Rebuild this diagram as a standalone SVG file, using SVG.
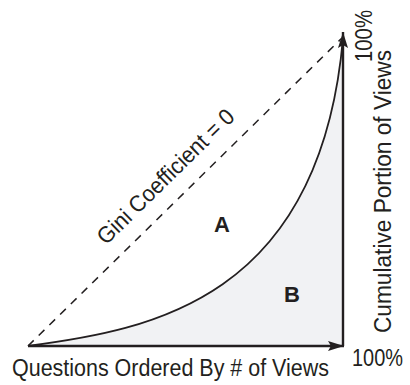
<svg xmlns="http://www.w3.org/2000/svg" width="410" height="385" viewBox="0 0 410 385">
<defs>
<style>
.lbl{font-family:"Liberation Sans",Arial,sans-serif;font-size:23px;fill:#231f20}
.big{font-family:"Liberation Sans",Arial,sans-serif;font-size:22px;font-weight:bold;fill:#231f20}
.axis{stroke:#231f20;stroke-width:2.4;fill:none}
</style>
<marker id="ah" viewBox="0 0 16 10" refX="16" refY="5" markerWidth="16" markerHeight="10" markerUnits="userSpaceOnUse" orient="auto">
<path d="M0,0 L16,5 L0,10 L3,5 Z" fill="#231f20"/>
</marker>
</defs>
<rect width="410" height="385" fill="#ffffff"/>
<g id="area-b">
<path d="M28,346 C150,330 320,300 343,38 L343,346 Z" fill="#f1f2f4"/>
</g>
<g id="connectors">
<line x1="28" y1="346" x2="342" y2="38" stroke="#231f20" stroke-width="1.5" stroke-dasharray="8,7"/>
<path d="M28,346 C150,330 320,300 343,38" fill="none" stroke="#231f20" stroke-width="1.8"/>
<line class="axis" x1="28" y1="346" x2="344" y2="346" marker-end="url(#ah)"/>
<line class="axis" x1="343" y1="346" x2="343" y2="32" marker-end="url(#ah)"/>
</g>
<g id="labels">
<text class="big" x="222" y="232" text-anchor="middle">A</text>
<text class="big" x="292" y="302" text-anchor="middle">B</text>
<text class="lbl" x="12" y="376" textLength="317" lengthAdjust="spacingAndGlyphs">Questions Ordered By # of Views</text>
<text class="lbl" x="352" y="366" textLength="51" lengthAdjust="spacingAndGlyphs">100%</text>
<text class="lbl" transform="translate(372,62) rotate(-90)" textLength="52" lengthAdjust="spacingAndGlyphs">100%</text>
<text class="lbl" transform="translate(391,333) rotate(-90)" textLength="283" lengthAdjust="spacingAndGlyphs">Cumulative Portion of Views</text>
<text class="lbl" transform="translate(171,182) rotate(-44.45)" text-anchor="middle" textLength="182" lengthAdjust="spacingAndGlyphs">Gini Coefficient = 0</text>
</g>
</svg>
